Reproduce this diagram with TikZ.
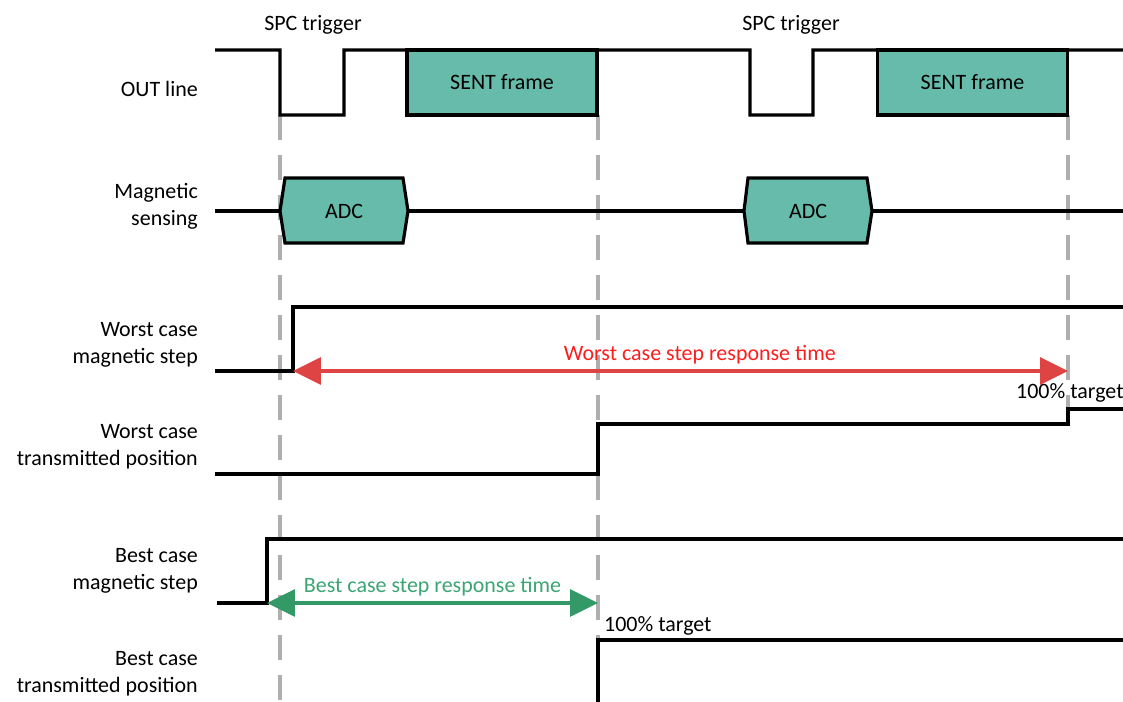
\documentclass[tikz,border=0pt]{standalone}
\usepackage{fontspec}
\setmainfont{Carlito}
\usetikzlibrary{arrows.meta}
\definecolor{frameteal}{RGB}{102,187,170}
\definecolor{spanred}{RGB}{222,68,68}
\definecolor{textred}{RGB}{250,30,30}
\definecolor{spangreen}{RGB}{51,153,102}
\definecolor{textgreen}{RGB}{60,165,115}
\definecolor{guidegray}{RGB}{175,175,175}
\tikzstyle{sentbox} = [rectangle, minimum width=3.8cm, minimum height=1.3cm, text centered, draw=black, fill=frameteal, line width=1.8pt, outer sep=0pt]
\tikzstyle{wave} = [line width=1.8pt, line join=miter]
\tikzstyle{guide} = [line width=1.8pt, guidegray, dash pattern=on 0.5cm off 0.3cm]
\tikzstyle{rowlabel} = [anchor=east, align=right]
\tikzstyle{span} = [line width=1.8pt, {Triangle[length=0.56cm,width=0.54cm]}-{Triangle[length=0.56cm,width=0.54cm]}]

\begin{document}
\begin{tikzpicture}[x=0.02cm, y=-0.02cm, font=\fontsize{12.5}{15.5}\selectfont]
            \useasboundingbox (0,0) rectangle (1123,702);

            % Draw Guides
            \draw[guide] (280,115) -- (280,702);
            \draw[guide] (598,115) -- (598,702);
            \draw[guide] (1068,115) -- (1068,409);

            % Draw Labels
            \node(outlbl) [rowlabel] at (204,89) {OUT line};
            \node(maglbl) [rowlabel] at (204,206) {Magnetic\\sensing};
            \node(wcsteplbl) [rowlabel] at (204,345) {Worst case\\magnetic step};
            \node(wcposlbl) [rowlabel] at (204,447) {Worst case\\transmitted position};
            \node(bcsteplbl) [rowlabel] at (204,571) {Best case\\magnetic step};
            \node(bcposlbl) [rowlabel] at (204,674) {Best case\\transmitted position};

            % Draw Boxes
            \node(sent1) [sentbox] at (502,82.5) {SENT frame};
            \node(sent2) [sentbox] at (972.5,82.5) {SENT frame};
            \node(trig1) at (313,25) {SPC trigger};
            \node(trig2) at (791,25) {SPC trigger};

            % OUT line
            \draw[wave] (215,50) -- (280,50) -- (280,115) -- (344,115) -- (344,50) -- (sent1.north west);
            \draw[wave] (sent1.north east) -- (750,50) -- (750,115) -- (813,115) -- (813,50) -- (sent2.north west);
            \draw[wave] (sent2.north east) -- (1123,50);

            % Magnetic sensing
            \draw[wave] (215,211) -- (280,211);
            \draw[wave, fill=frameteal] (280,211) -- (285,178) -- (403,178) -- (408,211) -- (403,243) -- (285,243) -- cycle;
            \node(adc1) at (344,211) {ADC};
            \draw[wave] (408,211) -- (744,211);
            \draw[wave, fill=frameteal] (744,211) -- (748,178) -- (867,178) -- (872,211) -- (867,243) -- (748,243) -- cycle;
            \node(adc2) at (808,211) {ADC};
            \draw[wave] (872,211) -- (1123,211);

            % Worst case
            \coordinate (wcstep) at (293,371);
            \coordinate (wcdone) at (1068,371);
            \draw[wave] (215,371) -- (wcstep) -- (293,307) -- (1123,307);
            \draw[wave] (215,474) -- (598,474) -- (598,424) -- (1068,424) -- (1068,409) -- (1123,409);
            \node(wctarget) [anchor=west] at (1010,393) {100\% target};
            \draw[span, spanred] (wcstep) -- (wcdone) node[pos=0.525, above, textred] {Worst case step response time};

            % Best case
            \coordinate (bcstep) at (267,603);
            \coordinate (bcdone) at (598,603);
            \draw[wave] (217,603) -- (bcstep) -- (267,539) -- (1123,539);
            \draw[wave] (598,710) -- (598,640) -- (1123,640);
            \node(bctarget) [anchor=west] at (598,626) {100\% target};
            \draw[span, spangreen] (bcstep) -- (bcdone) node[midway, above, textgreen] {Best case step response time};
        \end{tikzpicture}
\end{document}
